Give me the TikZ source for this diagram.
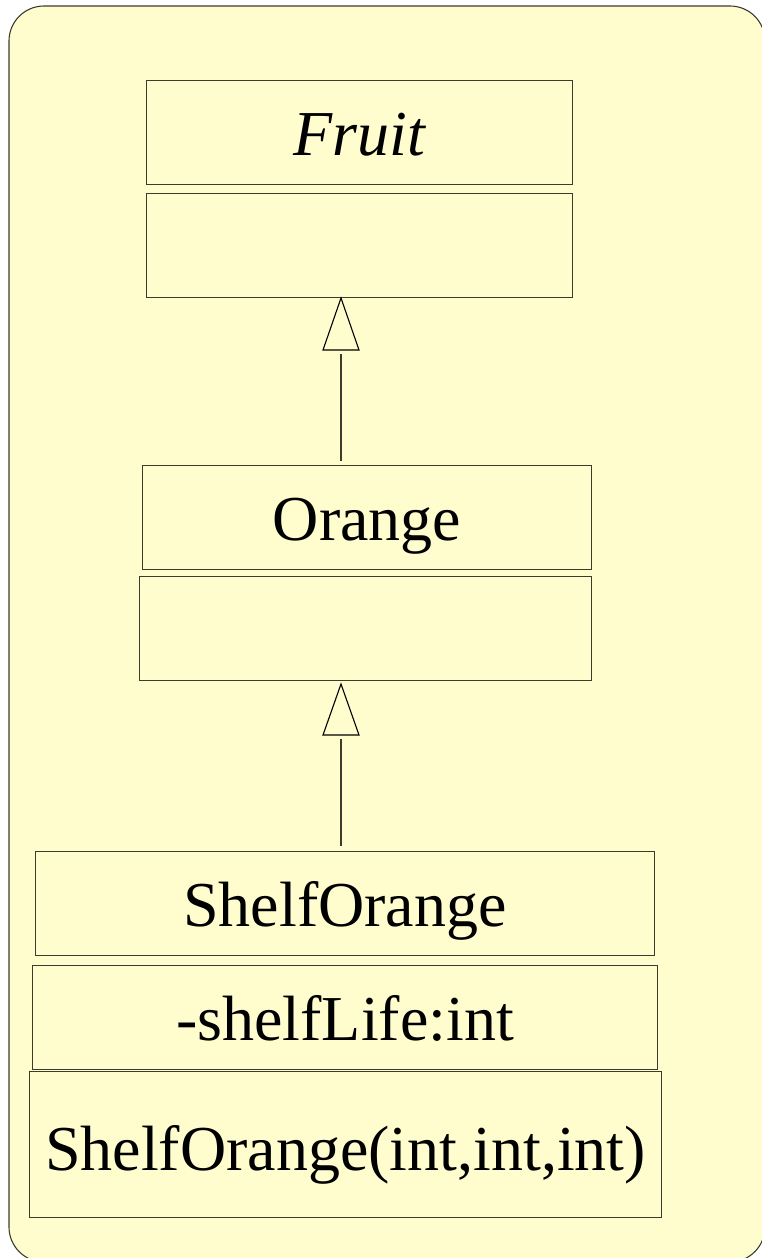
\documentclass[tikz,border=0pt]{standalone}
\usepackage{fontspec}
\setmainfont{Liberation Serif}
\usetikzlibrary{calc}
\definecolor{paper}{RGB}{255,253,206}
\definecolor{edge}{RGB}{60,60,45}
\tikzset{
  umlbox/.style={draw=edge, line width=1.1pt, fill=paper, anchor=north west, inner sep=0pt,
    text height=46pt, text depth=0pt,
    font=\fontsize{64}{70}\selectfont},
  conn/.style={draw=edge, line width=1.1pt},
  gentip/.style={draw=black, line width=1.1pt, fill=paper, line join=miter}
}
\begin{document}
\begin{tikzpicture}[x=1pt,y=-1pt]
\useasboundingbox (0,0) rectangle (762,1258);
\fill[white] (0,0) rectangle (762,1258);
\draw[edge, line width=1.1pt, fill=paper, rounded corners=35pt] (9,6) rectangle (765,1262);

% Fruit
\node[umlbox, minimum width=426pt, minimum height=104pt] (f1) at (146,80) {\itshape Fruit};
\node[umlbox, minimum width=426pt, minimum height=104pt] (f2) at (146,193) {};

% Orange
\node[umlbox, minimum width=449pt, minimum height=104pt] (o1) at (142,465) {Orange};
\node[umlbox, minimum width=452pt, minimum height=104pt] (o2) at (139,576) {};

% ShelfOrange
\node[umlbox, minimum width=619pt, minimum height=104pt] (s1) at (35,851) {ShelfOrange};
\node[umlbox, minimum width=625pt, minimum height=104pt] (s2) at (32,965) {-shelfLife:int};
\node[umlbox, minimum width=632pt, minimum height=146pt, text height=52pt] (s3) at (29,1071) {ShelfOrange(int,int,int)};

% Generalization Orange -> Fruit
\coordinate (t1) at (341,298);
\draw[gentip] (t1) -- ($(t1)+(18,52)$) -- ($(t1)+(-18,52)$) -- cycle;
\draw[conn] (341,461) -- ($(t1)+(0,56)$);

% Generalization ShelfOrange -> Orange
\coordinate (t2) at (341,684);
\draw[gentip] (t2) -- ($(t2)+(18,51)$) -- ($(t2)+(-18,51)$) -- cycle;
\draw[conn] (341,846) -- ($(t2)+(0,55)$);
\end{tikzpicture}
\end{document}
